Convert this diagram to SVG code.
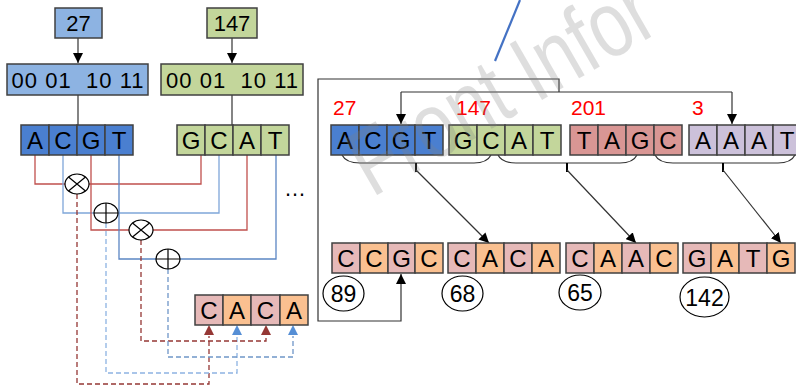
<svg xmlns="http://www.w3.org/2000/svg" width="796" height="385" viewBox="0 0 796 385">
<defs>
<style>
.bx{stroke:#404040;stroke-width:1.5}
.lb{fill:#8db3e2}
.db{fill:#4a7fd0}
.gr{fill:#c3d69b}
.rd{fill:#d99694}
.pu{fill:#ccc1da}
.pk{fill:#e6b9b8}
.or{fill:#fac090}
.t{font-family:"Liberation Sans",Arial,sans-serif;font-size:24px;fill:#000;text-anchor:middle}
.h{font-family:"Liberation Sans",Arial,sans-serif;font-size:22px;fill:#000;text-anchor:middle}
.n{font-family:"Liberation Sans",Arial,sans-serif;font-size:21px;fill:#ff0000}
.k{fill:none;stroke:#333;stroke-width:1.2}
.sr{fill:none;stroke:#c0504d;stroke-width:1.3}
.sb{fill:none;stroke:#7fa6d9;stroke-width:1.3}
.dr{fill:none;stroke:#953735;stroke-width:1.3;stroke-dasharray:5,3}
.db2{fill:none;stroke:#8db3e2;stroke-width:1.3;stroke-dasharray:5,3}
.dbb{fill:none;stroke:#6f96c8;stroke-width:1.3;stroke-dasharray:5,3}
.op{fill:#fff;stroke:#000;stroke-width:1.2}
.el{fill:#fff;stroke:#000;stroke-width:1.2}
</style>
<marker id="ah" viewBox="0 0 10 10" refX="10" refY="5" markerWidth="10" markerHeight="10" markerUnits="userSpaceOnUse" orient="auto">
<path d="M0,0L10,5L0,10z" fill="#000"/>
</marker>
</defs>
<rect width="796" height="385" fill="#fff"/>

<g id="connectors">
<line class="k" x1="78" y1="38" x2="78" y2="63" marker-end="url(#ah)"/>
<line class="k" x1="232" y1="38" x2="232" y2="63" marker-end="url(#ah)"/>
<line class="k" x1="78" y1="95" x2="78" y2="125"/>
<line class="k" x1="232" y1="95" x2="232" y2="125"/>
<path class="sr" d="M35,155V184H201V155"/>
<path class="sb" d="M63,155V213H219V155"/>
<path class="sr" d="M91,155V230H247V155"/>
<path class="sb" d="M119,155V259H276V155" style="stroke:#5b86c4"/>
<path class="dr" d="M77,194V384H209V336"/>
<path class="db2" d="M106,223V373H237V336"/>
<path class="dr" d="M141,240V341H266V336"/>
<path class="dbb" d="M168,269V357H293V336"/>
<path d="M209,325L204,335H214z" fill="#953735"/>
<path d="M237,325L232,335H242z" fill="#558ed5"/>
<path d="M266,325L261,335H271z" fill="#953735"/>
<path d="M293,325L288,335H298z" fill="#558ed5"/>
<path class="k" d="M401,274V321H318V79H559V92"/>
<path d="M401,274L396,284H406z" fill="#000"/>
<path class="k" d="M401,92H732"/>
<line class="k" x1="401" y1="92" x2="401" y2="124" marker-end="url(#ah)"/>
<line class="k" x1="732" y1="92" x2="732" y2="124" marker-end="url(#ah)"/>
<path class="k" d="M342,155Q346,163 360,163H474Q487,163 491,155"/>
<path class="k" d="M498,155Q502,163 516,163H620Q633,163 637,155"/>
<path class="k" d="M655,155Q659,163 673,163H778Q791,163 795,155"/>
<path d="M416,163V172M567,163V172M723,163V172" stroke="#000" stroke-width="2"/>
<line class="k" x1="416" y1="170" x2="489" y2="243" marker-end="url(#ah)"/>
<line class="k" x1="567" y1="170" x2="636" y2="243" marker-end="url(#ah)"/>
<line class="k" x1="723" y1="170" x2="781" y2="243" marker-end="url(#ah)"/>
<line x1="495" y1="61" x2="520" y2="0" stroke="#4472c4" stroke-width="2.2"/>
</g>

<g id="n27">
<rect class="bx lb" x="55" y="8" width="47" height="30"/>
<text class="h" x="78.5" y="31">27</text>
</g>
<g id="n147">
<rect class="bx gr" x="207" y="8" width="50" height="30"/>
<text class="h" x="232" y="31">147</text>
</g>
<g id="bin27">
<rect class="bx lb" x="7" y="64" width="141" height="31"/>
<text class="h" x="77.5" y="87.5" xml:space="preserve" textLength="132" lengthAdjust="spacing">00 01  10 11</text>
</g>
<g id="bin147">
<rect class="bx gr" x="161" y="64" width="142" height="31"/>
<text class="h" x="232" y="87.5" xml:space="preserve" textLength="132" lengthAdjust="spacing">00 01  10 11</text>
</g>
<g id="seqL1">
<rect class="bx db" x="21" y="125" width="28" height="30"/>
<rect class="bx db" x="49" y="125" width="28" height="30"/>
<rect class="bx db" x="77" y="125" width="28" height="30"/>
<rect class="bx db" x="105" y="125" width="28" height="30"/>
<text class="t" x="35" y="149">A</text><text class="t" x="63" y="149">C</text><text class="t" x="91" y="149">G</text><text class="t" x="119" y="149">T</text>
</g>
<g id="seqL2">
<rect class="bx gr" x="177" y="125" width="28" height="30"/>
<rect class="bx gr" x="205" y="125" width="28" height="30"/>
<rect class="bx gr" x="233" y="125" width="28" height="30"/>
<rect class="bx gr" x="261" y="125" width="28" height="30"/>
<text class="t" x="191" y="149">G</text><text class="t" x="219" y="149">C</text><text class="t" x="247" y="149">A</text><text class="t" x="275" y="149">T</text>
</g>
<g id="op1">
<ellipse class="op" cx="77" cy="184" rx="12" ry="10"/>
<path d="M68.5,177L85.5,191M85.5,177L68.5,191" stroke="#000" stroke-width="1.2"/>
</g>
<g id="op2">
<ellipse class="op" cx="106" cy="213" rx="12" ry="10"/>
<path d="M94,213H118M106,203V223" stroke="#000" stroke-width="1.2"/>
</g>
<g id="op3">
<ellipse class="op" cx="141" cy="230" rx="12" ry="10"/>
<path d="M132.5,223L149.5,237M149.5,223L132.5,237" stroke="#000" stroke-width="1.2"/>
</g>
<g id="op4">
<ellipse class="op" cx="168" cy="259" rx="12" ry="10"/>
<path d="M156,259H180M168,249V269" stroke="#000" stroke-width="1.2"/>
</g>
<g id="dots">
<text x="295" y="196" style="font-family:'Liberation Sans',Arial,sans-serif;font-size:22px;text-anchor:middle">…</text>
</g>
<g id="resL">
<rect class="bx pk" x="195" y="295" width="28" height="30"/>
<rect class="bx or" x="223" y="295" width="28" height="30"/>
<rect class="bx pk" x="251" y="295" width="29" height="30"/>
<rect class="bx or" x="280" y="295" width="28" height="30"/>
<text class="t" x="209" y="319">C</text><text class="t" x="237" y="319">A</text><text class="t" x="265.5" y="319">C</text><text class="t" x="294" y="319">A</text>
</g>

<g id="seqR1">
<text class="n" x="333" y="115">27</text>
<rect class="bx db" x="331" y="125" width="28" height="30"/>
<rect class="bx db" x="359" y="125" width="28" height="30"/>
<rect class="bx db" x="387" y="125" width="28" height="30"/>
<rect class="bx db" x="415" y="125" width="28" height="30"/>
<text class="t" x="345" y="149">A</text><text class="t" x="373" y="149">C</text><text class="t" x="401" y="149">G</text><text class="t" x="429" y="149">T</text>
</g>
<g id="seqR2">
<text class="n" x="456" y="115">147</text>
<rect class="bx gr" x="449" y="125" width="28" height="30"/>
<rect class="bx gr" x="477" y="125" width="28" height="30"/>
<rect class="bx gr" x="505" y="125" width="28" height="30"/>
<rect class="bx gr" x="533" y="125" width="28" height="30"/>
<text class="t" x="463" y="149">G</text><text class="t" x="491" y="149">C</text><text class="t" x="519" y="149">A</text><text class="t" x="547" y="149">T</text>
</g>
<g id="seqR3">
<text class="n" x="571" y="115">201</text>
<rect class="bx rd" x="570" y="125" width="28" height="30"/>
<rect class="bx rd" x="598" y="125" width="28" height="30"/>
<rect class="bx rd" x="626" y="125" width="28" height="30"/>
<rect class="bx rd" x="654" y="125" width="28" height="30"/>
<text class="t" x="584" y="149">T</text><text class="t" x="612" y="149">A</text><text class="t" x="640" y="149">G</text><text class="t" x="668" y="149">C</text>
</g>
<g id="seqR4">
<text class="n" x="692" y="115">3</text>
<rect class="bx pu" x="689" y="125" width="28" height="30"/>
<rect class="bx pu" x="717" y="125" width="28" height="30"/>
<rect class="bx pu" x="745" y="125" width="28" height="30"/>
<rect class="bx pu" x="773" y="125" width="28" height="30"/>
<text class="t" x="703" y="149">A</text><text class="t" x="731" y="149">A</text><text class="t" x="759" y="149">A</text><text class="t" x="787" y="149">T</text>
</g>

<g id="outR1">
<rect class="bx pk" x="332" y="243" width="28" height="30"/>
<rect class="bx or" x="360" y="243" width="28" height="30"/>
<rect class="bx pk" x="388" y="243" width="27" height="30"/>
<rect class="bx or" x="415" y="243" width="28" height="30"/>
<text class="t" x="346" y="267">C</text><text class="t" x="374" y="267">C</text><text class="t" x="401.5" y="267">G</text><text class="t" x="429" y="267">C</text>
<ellipse class="el" cx="343.5" cy="293.5" rx="20.5" ry="17.5"/>
<text class="t" x="343.5" y="302" style="font-size:23px">89</text>
</g>
<g id="outR2">
<rect class="bx pk" x="448" y="243" width="28" height="30"/>
<rect class="bx or" x="476" y="243" width="28" height="30"/>
<rect class="bx pk" x="504" y="243" width="28" height="30"/>
<rect class="bx or" x="532" y="243" width="28" height="30"/>
<text class="t" x="462" y="267">C</text><text class="t" x="490" y="267">A</text><text class="t" x="518" y="267">C</text><text class="t" x="546" y="267">A</text>
<ellipse class="el" cx="462.5" cy="293.5" rx="20.5" ry="17.5"/>
<text class="t" x="462.5" y="302" style="font-size:23px">68</text>
</g>
<g id="outR3">
<rect class="bx pk" x="566" y="243" width="28" height="30"/>
<rect class="bx or" x="594" y="243" width="28" height="30"/>
<rect class="bx pk" x="622" y="243" width="28" height="30"/>
<rect class="bx or" x="650" y="243" width="28" height="30"/>
<text class="t" x="580" y="267">C</text><text class="t" x="608" y="267">A</text><text class="t" x="636" y="267">A</text><text class="t" x="664" y="267">C</text>
<ellipse class="el" cx="580" cy="292.5" rx="21" ry="17.5"/>
<text class="t" x="580" y="301" style="font-size:23px">65</text>
</g>
<g id="outR4">
<rect class="bx pk" x="683" y="243" width="28" height="30"/>
<rect class="bx or" x="711" y="243" width="28" height="30"/>
<rect class="bx pk" x="739" y="243" width="28" height="30"/>
<rect class="bx or" x="767" y="243" width="28" height="30"/>
<text class="t" x="697" y="267">G</text><text class="t" x="725" y="267">A</text><text class="t" x="753" y="267">T</text><text class="t" x="781" y="267">G</text>
<ellipse class="el" cx="704.5" cy="297" rx="24.5" ry="20"/>
<text class="t" x="704.5" y="305.5" style="font-size:23px">142</text>
</g>

<text x="372" y="198" transform="rotate(-30 372 198)" textLength="335" lengthAdjust="spacingAndGlyphs" style="font-family:'Liberation Sans',Arial,sans-serif;font-size:94px;fill:#808080;opacity:0.25">Front Infor</text>
</svg>
